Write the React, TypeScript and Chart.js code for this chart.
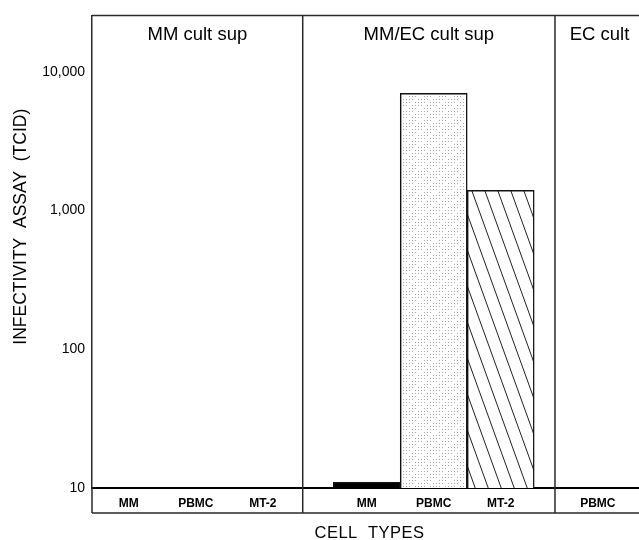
import React, { useEffect, useRef } from 'react';
import { Chart, registerables } from 'chart.js';

Chart.register(...registerables);

// ---- data ----
const groupTitles = ['MM cult sup', 'MM/EC cult sup', 'EC cult'];
const cellTypes = ['MM', 'PBMC', 'MT-2', 'MM', 'PBMC', 'MT-2', 'PBMC'];
const cellGroup = [0, 0, 0, 1, 1, 1, 2];
const infectivity = [10, 10, 10, 11, 7000, 1400, 10];
const yTickValues = [10, 100, 1000, 10000];
const yAxisTitle = 'INFECTIVITY  ASSAY  (TCID)';
const xAxisTitle = 'CELL  TYPES';

// ---- layout (axis units, not data) ----
const SLOT_X = [0.55, 1.55, 2.55, 4.1, 5.1, 6.1, 7.55];
const GROUP_EDGES = [0, 3.145, 6.91, 8.24];
const X_MAX = 8.164;
const Y_MIN = 10;
const Y_MAX = 25500;
const FONT = '"Liberation Sans", Arial, Helvetica, sans-serif';

function makeDots(): CanvasPattern | string {
  const c = document.createElement('canvas');
  c.width = 15;
  c.height = 12;
  const g = c.getContext('2d');
  if (!g) return '#eee';
  g.fillStyle = '#ffffff';
  g.fillRect(0, 0, 15, 12);
  g.fillStyle = '#a8a8a8';
  for (let i = 0; i < 5; i++) {
    for (let j = 0; j < 4; j++) {
      if ((i * 7 + j * 3) % 4 === 0) continue;
      g.fillRect(i * 3 + 1, j * 3, 1, 1);
    }
  }
  return g.createPattern(c, 'repeat') || '#eee';
}

function makeHatch(): CanvasPattern | string {
  const w = 13;
  const h = 36;
  const c = document.createElement('canvas');
  c.width = w;
  c.height = h;
  const g = c.getContext('2d');
  if (!g) return '#ccc';
  g.fillStyle = '#ffffff';
  g.fillRect(0, 0, w, h);
  g.strokeStyle = '#222';
  g.lineWidth = 1;
  for (const x0 of [-w, 0, w]) {
    g.beginPath();
    g.moveTo(x0, 0);
    g.lineTo(x0 + w, h);
    g.stroke();
  }
  return g.createPattern(c, 'repeat') || '#ccc';
}

const framePlugin = {
  id: 'frame',
  afterDraw(chart: any) {
    const { ctx, chartArea: ca, scales } = chart;
    const x = scales.x;
    const bandBottom = ca.bottom + 25;
    const right = ca.right + 3;
    ctx.save();
    ctx.strokeStyle = '#2a2a2a';
    ctx.lineWidth = 1.5;
    ctx.beginPath();
    ctx.moveTo(ca.left, ca.top);
    ctx.lineTo(right, ca.top);
    ctx.moveTo(ca.left, ca.bottom);
    ctx.lineTo(ca.left, bandBottom);
    ctx.moveTo(ca.left, bandBottom);
    ctx.lineTo(right, bandBottom);
    for (let k = 1; k < GROUP_EDGES.length - 1; k++) {
      const px = x.getPixelForValue(GROUP_EDGES[k]);
      ctx.moveTo(px, ca.top);
      ctx.lineTo(px, bandBottom);
    }
    ctx.stroke();

    // group titles
    ctx.fillStyle = '#000';
    ctx.font = `18.5px ${FONT}`;
    ctx.textAlign = 'center';
    ctx.textBaseline = 'alphabetic';
    groupTitles.forEach((t, g) => {
      const cx = x.getPixelForValue((GROUP_EDGES[g] + GROUP_EDGES[g + 1]) / 2);
      ctx.fillText(t, cx, ca.top + 25);
    });

    // y title
    ctx.save();
    ctx.font = `17.5px ${FONT}`;
    ctx.translate(26, (ca.top + ca.bottom) / 2 - 25);
    ctx.rotate(-Math.PI / 2);
    ctx.fillText(yAxisTitle, 0, 0);
    ctx.restore();

    // x title
    ctx.font = `16.5px ${FONT}`;
    (ctx as any).letterSpacing = '0.5px';
    ctx.fillText(xAxisTitle, (ca.left + ca.right) / 2 + 4, bandBottom + 25);
    (ctx as any).letterSpacing = '0px';
    ctx.restore();
  },
};

export default function App() {
  const ref = useRef<HTMLCanvasElement | null>(null);

  useEffect(() => {
    if (!ref.current) return;
    const dots = makeDots();
    const hatch = makeHatch();
    const fills: any[] = cellTypes.map((_, i) => {
      if (cellGroup[i] !== 1) return 'rgba(0,0,0,0)';
      if (i === 3) return '#000';
      if (i === 4) return dots;
      return hatch;
    });
    const borders = cellTypes.map((_, i) => (cellGroup[i] === 1 ? 1.5 : 0));

    const chart = new Chart(ref.current, {
      type: 'bar',
      data: {
        datasets: [
          {
            data: cellTypes.map((_, i) => ({ x: SLOT_X[i], y: infectivity[i] })),
            backgroundColor: fills,
            borderColor: '#111',
            borderWidth: borders,
            borderSkipped: 'bottom',
            barPercentage: 1,
            categoryPercentage: 1,
          } as any,
        ],
      },
      options: {
        animation: false,
        responsive: false,
        events: [],
        layout: { padding: { left: 0, top: 11, right: 0, bottom: 0 } },
        plugins: {
          legend: { display: false },
          tooltip: { enabled: false },
          title: { display: false },
        },
        scales: {
          x: {
            type: 'linear',
            offset: false,
            min: 0,
            max: X_MAX,
            grid: { display: false, drawTicks: false, offset: false },
            border: { display: true, color: '#000', width: 2 },
            afterBuildTicks: (scale: any) => {
              scale.ticks = SLOT_X.map((v) => ({ value: v }));
            },
            afterFit: (scale: any) => {
              scale.height = 52;
            },
            ticks: {
              autoSkip: false,
              maxRotation: 0,
              padding: 8,
              color: '#000',
              font: { family: FONT, size: 12, weight: 'bold' },
              callback: (_v: any, i: number) => cellTypes[i],
            },
          },
          y: {
            type: 'logarithmic',
            min: Y_MIN,
            max: Y_MAX,
            grid: { display: false, drawTicks: false },
            border: { display: true, color: '#2a2a2a', width: 1.5 },
            afterBuildTicks: (scale: any) => {
              scale.ticks = yTickValues.map((v) => ({ value: v }));
            },
            afterFit: (scale: any) => {
              scale.width = 92;
            },
            ticks: {
              autoSkip: false,
              padding: 7,
              color: '#000',
              font: { family: FONT, size: 14 },
              callback: (v: any) => Number(v).toLocaleString('en-US'),
            },
          },
        },
      },
      plugins: [framePlugin],
    });
    return () => chart.destroy();
  }, []);

  return (
    <div style={{ position: 'absolute', left: 0, top: 0, width: 639, height: 540, background: '#fff' }}>
      <canvas ref={ref} width={639} height={540} />
    </div>
  );
}
